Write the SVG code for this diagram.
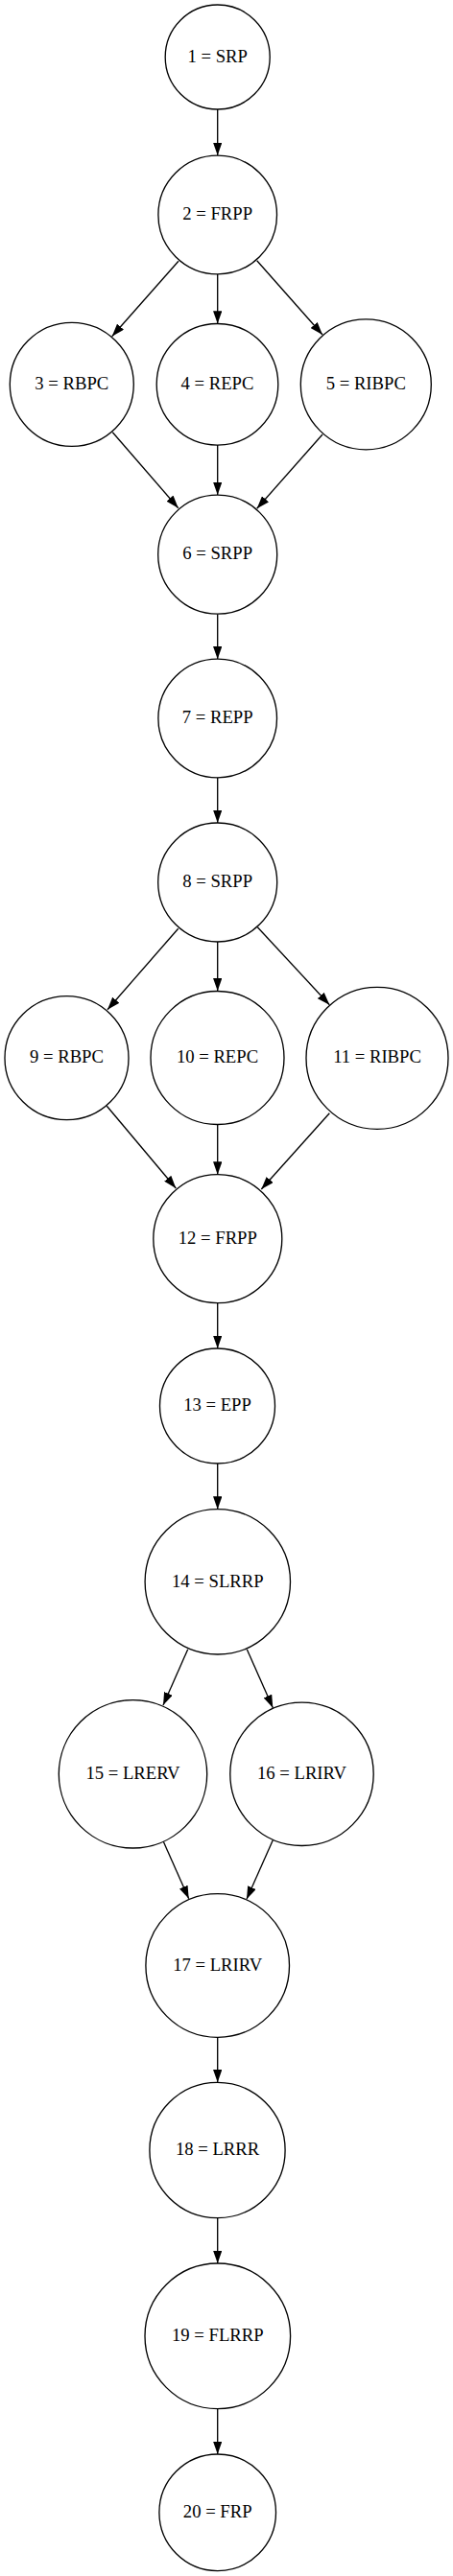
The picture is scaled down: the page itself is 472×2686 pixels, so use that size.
<svg xmlns="http://www.w3.org/2000/svg" width="472" height="2686" viewBox="0 0 472 2686">
<style>
.n{fill:#fff;stroke:#000;stroke-width:1.33}
.t{font-family:"Liberation Serif","Times New Roman",serif;font-size:18.67px;text-anchor:middle;fill:#000}
.e{fill:none;stroke:#000;stroke-width:1.33;marker-end:url(#ah)}
</style>
<defs>
<marker id="ah" markerUnits="userSpaceOnUse" viewBox="0 0 13.33 9.33" markerWidth="13.33" markerHeight="9.33" refX="13.33" refY="4.67" orient="auto">
<polygon points="0,0 13.33,4.67 0,9.33" fill="#000"/>
</marker>
</defs>
<rect width="472" height="2686" fill="#fff"/>
<g id="edges">
<path class="e" d="M226.7,114 L226.7,162"/>
<path class="e" d="M186,272.3 L116.7,350.7"/>
<path class="e" d="M226.7,285.7 L226.7,337.5"/>
<path class="e" d="M267.7,271.7 L336,349"/>
<path class="e" d="M117.3,450.7 L185.7,529.7"/>
<path class="e" d="M226.7,464 L226.7,516"/>
<path class="e" d="M336,453 L267.7,530.3"/>
<path class="e" d="M226.7,640.3 L226.7,687.3"/>
<path class="e" d="M226.7,810.7 L226.7,858"/>
<path class="e" d="M185.7,968.3 L112,1052.7"/>
<path class="e" d="M226.7,982 L226.7,1033.3"/>
<path class="e" d="M268.3,966.7 L343.3,1047.7"/>
<path class="e" d="M111.3,1153.3 L183.3,1239"/>
<path class="e" d="M226.7,1172.7 L226.7,1224.7"/>
<path class="e" d="M343.3,1160.7 L272.3,1240"/>
<path class="e" d="M226.7,1358.7 L226.7,1406"/>
<path class="e" d="M226.7,1526 L226.7,1573.7"/>
<path class="e" d="M195.7,1719.7 L170,1778"/>
<path class="e" d="M257.3,1719.7 L284.3,1780.7"/>
<path class="e" d="M170.3,1920.3 L196.7,1979.7"/>
<path class="e" d="M284.3,1918.7 L257,1980.3"/>
<path class="e" d="M226.7,2124.3 L226.7,2171.3"/>
<path class="e" d="M226.7,2312.7 L226.7,2360"/>
<path class="e" d="M226.7,2511.7 L226.7,2559"/>
</g>
<g id="n1"><circle class="n" cx="226.7" cy="59.5" r="54.5"/><text class="t" x="226.7" y="65">1 = SRP</text></g>
<g id="n2"><circle class="n" cx="226.7" cy="224" r="61.8"/><text class="t" x="226.7" y="229.3">2 = FRPP</text></g>
<g id="n3"><circle class="n" cx="74.8" cy="400.8" r="64.5"/><text class="t" x="74.8" y="405.8">3 = RBPC</text></g>
<g id="n4"><circle class="n" cx="226.5" cy="400.8" r="63.3"/><text class="t" x="226.5" y="405.8">4 = REPC</text></g>
<g id="n5"><circle class="n" cx="381.3" cy="400.8" r="68"/><text class="t" x="381.3" y="405.8">5 = RIBPC</text></g>
<g id="n6"><circle class="n" cx="226.7" cy="578.2" r="62"/><text class="t" x="226.7" y="583.2">6 = SRPP</text></g>
<g id="n7"><circle class="n" cx="226.7" cy="749" r="61.8"/><text class="t" x="226.7" y="754">7 = REPP</text></g>
<g id="n8"><circle class="n" cx="226.7" cy="920" r="62"/><text class="t" x="226.7" y="925">8 = SRPP</text></g>
<g id="n9"><circle class="n" cx="69.5" cy="1103.2" r="64.5"/><text class="t" x="69.5" y="1108.2">9 = RBPC</text></g>
<g id="n10"><circle class="n" cx="226.5" cy="1103" r="69.5"/><text class="t" x="226.5" y="1108">10 = REPC</text></g>
<g id="n11"><circle class="n" cx="393" cy="1103.3" r="74"/><text class="t" x="393" y="1108.3">11 = RIBPC</text></g>
<g id="n12"><circle class="n" cx="226.8" cy="1291.7" r="67"/><text class="t" x="226.8" y="1296.7">12 = FRPP</text></g>
<g id="n13"><circle class="n" cx="226.5" cy="1466" r="60"/><text class="t" x="226.5" y="1471">13 = EPP</text></g>
<g id="n14"><circle class="n" cx="226.8" cy="1649.3" r="75.7"/><text class="t" x="226.8" y="1654.5">14 = SLRRP</text></g>
<g id="n15"><circle class="n" cx="138.5" cy="1849.8" r="77.2"/><text class="t" x="138.5" y="1854.8">15 = LRERV</text></g>
<g id="n16"><circle class="n" cx="314.5" cy="1849.8" r="74.7"/><text class="t" x="314.5" y="1854.8">16 = LRIRV</text></g>
<g id="n17"><circle class="n" cx="226.7" cy="2049.5" r="74.8"/><text class="t" x="226.7" y="2054.5">17 = LRIRV</text></g>
<g id="n18"><circle class="n" cx="226.5" cy="2242" r="70.6"/><text class="t" x="226.5" y="2247">18 = LRRR</text></g>
<g id="n19"><circle class="n" cx="226.8" cy="2435.8" r="75.8"/><text class="t" x="226.8" y="2440.8">19 = FLRRP</text></g>
<g id="n20"><circle class="n" cx="226.7" cy="2619.8" r="60.8"/><text class="t" x="226.7" y="2624.8">20 = FRP</text></g>
</svg>
